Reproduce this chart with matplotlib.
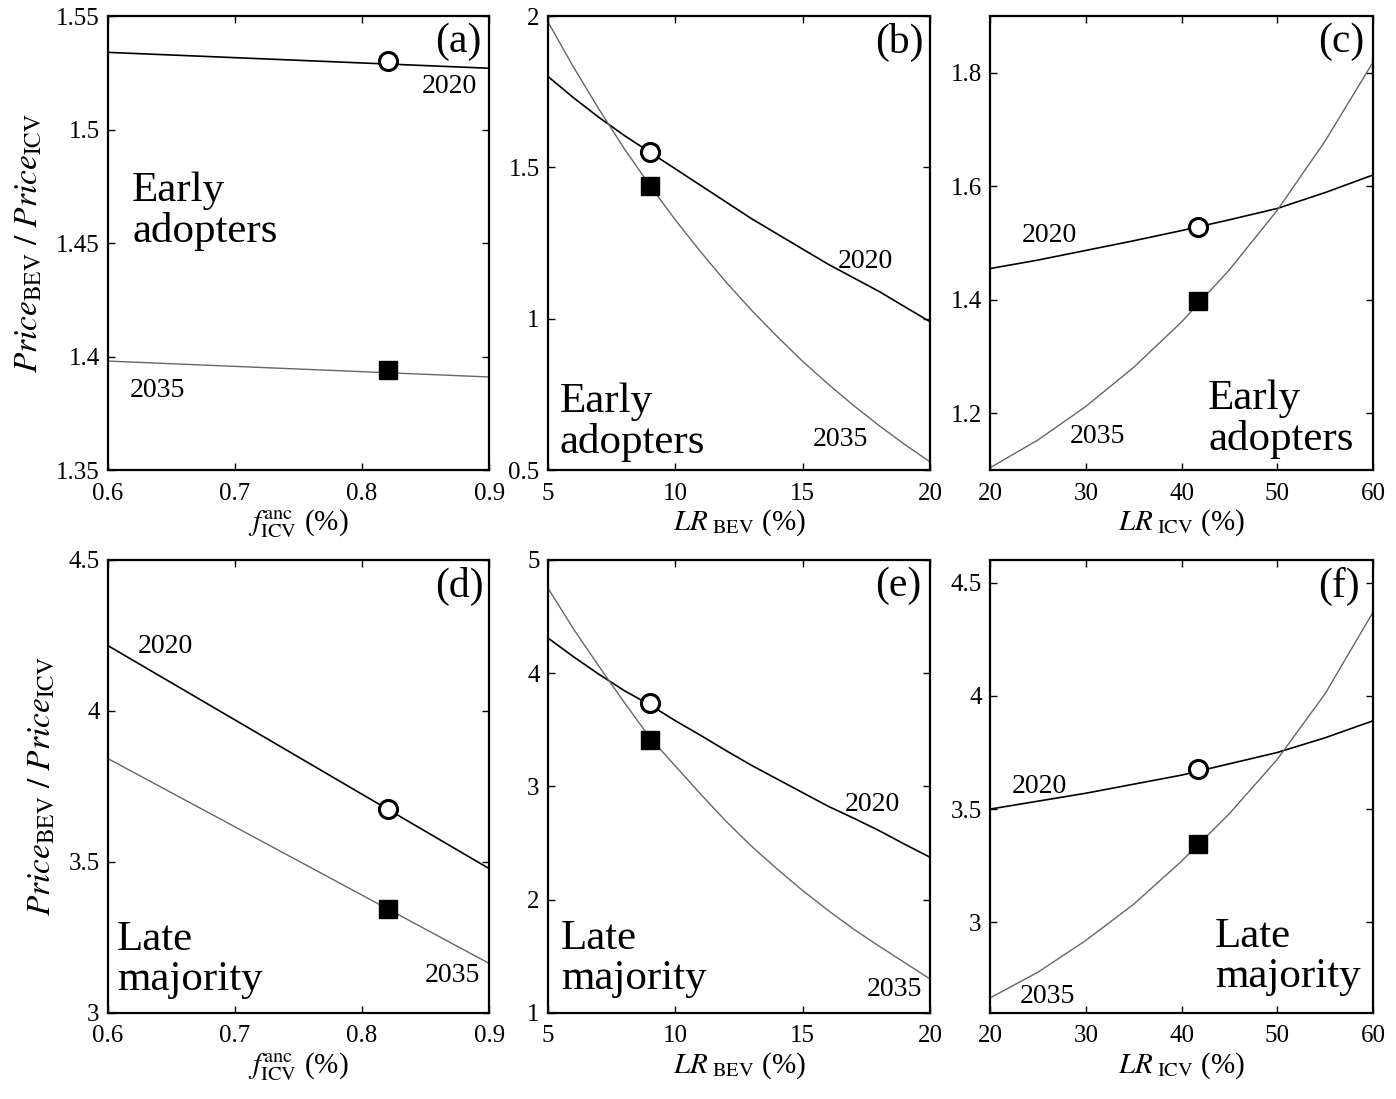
import numpy as np
import matplotlib.pyplot as plt
from matplotlib.ticker import FormatStrFormatter

plt.rcParams['font.family'] = ['Liberation Serif', 'DejaVu Serif']
plt.rcParams['mathtext.fontset'] = 'stix'

# f_anc sweep, panels (a) and (d)
f_anc = [0.6, 0.9]
a_2020 = [1.534, 1.527]
a_2035 = [1.398, 1.391]
d_2020 = [4.216, 3.478]
d_2035 = [3.842, 3.164]

# LR_BEV sweep, panels (b) and (e)
lr_bev = [5, 6, 7, 8, 9, 10, 11, 12, 13, 14, 15, 16, 17, 18, 19, 20]
b_2020 = [1.80, 1.73, 1.665, 1.605, 1.55, 1.495, 1.44, 1.385, 1.33, 1.28,
          1.23, 1.18, 1.135, 1.09, 1.04, 0.99]
b_2035 = [1.98, 1.831, 1.692, 1.561, 1.44, 1.326, 1.22, 1.12, 1.027, 0.941,
          0.859, 0.784, 0.713, 0.647, 0.585, 0.527]
e_2020 = [4.31, 4.145, 3.99, 3.845, 3.72, 3.58, 3.45, 3.315, 3.185, 3.065,
          2.945, 2.825, 2.72, 2.61, 2.49, 2.375]
e_2035 = [4.75, 4.39, 4.06, 3.74, 3.43, 3.18, 2.93, 2.69, 2.47, 2.27,
          2.08, 1.905, 1.74, 1.59, 1.445, 1.30]

# LR_ICV sweep, panels (c) and (f)
lr_icv = [20, 25, 30, 35, 40, 45, 50, 55, 60]
c_2020 = [1.455, 1.470, 1.487, 1.504, 1.522, 1.541, 1.561, 1.589, 1.62]
c_2035 = [1.104, 1.153, 1.212, 1.281, 1.361, 1.453, 1.558, 1.68, 1.819]
f_2020 = [3.50, 3.535, 3.57, 3.61, 3.65, 3.70, 3.75, 3.815, 3.89]
f_2035 = [2.666, 2.78, 2.92, 3.08, 3.27, 3.48, 3.72, 4.01, 4.37]

# base case points (x, 2020 value, 2035 value)
base_a = (0.82, 1.530, 1.394)
base_b = (9, 1.55, 1.44)
base_c = (41.7, 1.529, 1.398)
base_d = (0.82, 3.675, 3.344)
base_e = (9, 3.74, 3.41)
base_f = (41.7, 3.675, 3.344)

ylabel = r'$\mathit{Price}_{\mathrm{BEV}}\ /\ \mathit{Price}_{\mathrm{ICV}}$'
xl_anc = r'$f_{\mathrm{ICV}}^{\mathrm{anc}}$ (%)'
xl_bev = r'$LR_{\ \mathrm{BEV}}$ (%)'
xl_icv = r'$LR_{\ \mathrm{ICV}}$ (%)'

fig = plt.figure(figsize=(13.96, 10.99), dpi=100)

lefts = [0.0774, 0.3926, 0.7092]
widths = [0.273, 0.2736, 0.2744]


def panel(pos, x, y20, y35, base, xlim, ylim, yticks, xticks, xlabel,
          letter, group, group_pos, lab20, lab35, show_ylabel):
    ax = fig.add_axes(pos)
    ax.plot(x, y20, color='black', lw=1.2)
    ax.plot(x, y35, color='#666666', lw=1.0)
    ax.plot(base[0], base[1], 'o', ms=13, mfc='white', mec='black', mew=2.2)
    ax.plot(base[0], base[2], 's', ms=13, mfc='black', mec='black')
    ax.set_xlim(xlim)
    ax.set_ylim(ylim)
    ax.set_xticks(xticks)
    ax.set_yticks(yticks)
    ax.xaxis.set_major_formatter(FormatStrFormatter('%g'))
    ax.yaxis.set_major_formatter(FormatStrFormatter('%g'))
    ax.tick_params(direction='in', top=True, right=True, length=5, width=1,
                   labelsize=18)
    ax.tick_params(axis='x', pad=9)
    ax.tick_params(axis='y', pad=6)
    for s in ax.spines.values():
        s.set_linewidth(1.6)
    ax.set_xlabel(xlabel, fontsize=21, labelpad=2)
    if show_ylabel:
        ax.set_ylabel(ylabel, fontsize=24, labelpad=8)
    ax.text(0.857, 0.985, letter, transform=ax.transAxes, fontsize=30,
            ha='left', va='top')
    ax.text(group_pos[0], group_pos[1], group, transform=ax.transAxes,
            fontsize=31, ha='left', va='center', linespacing=1.05)
    ax.text(lab20[0], lab20[1], '2020', fontsize=20, ha='center', va='center')
    ax.text(lab35[0], lab35[1], '2035', fontsize=20, ha='center', va='center')
    return ax


top = [0.5723, 0.4131]
bot = [0.0783, 0.4122]

panel([lefts[0], top[0], widths[0], top[1]], f_anc, a_2020, a_2035, base_a,
      (0.6, 0.9), (1.35, 1.55), [1.35, 1.4, 1.45, 1.5, 1.55],
      [0.6, 0.7, 0.8, 0.9], xl_anc, '(a)', 'Early\nadopters', (0.063, 0.57),
      (0.869, 1.519), (0.639, 1.385), True)
panel([lefts[1], top[0], widths[1], top[1]], lr_bev, b_2020, b_2035, base_b,
      (5, 20), (0.5, 2), [0.5, 1, 1.5, 2], [5, 10, 15, 20], xl_bev, '(b)',
      'Early\nadopters', (0.031, 0.105), (17.45, 1.19), (16.47, 0.60), False)
panel([lefts[2], top[0], widths[2], top[1]], lr_icv, c_2020, c_2035, base_c,
      (20, 60), (1.1, 1.9), [1.2, 1.4, 1.6, 1.8], [20, 30, 40, 50, 60],
      xl_icv, '(c)', 'Early\nadopters', (0.569, 0.112), (26.2, 1.514),
      (31.2, 1.159), False)
panel([lefts[0], bot[0], widths[0], bot[1]], f_anc, d_2020, d_2035, base_d,
      (0.6, 0.9), (3, 4.5), [3, 3.5, 4, 4.5], [0.6, 0.7, 0.8, 0.9], xl_anc,
      '(d)', 'Late\nmajority', (0.024, 0.118), (0.645, 4.213), (0.871, 3.124),
      True)
panel([lefts[1], bot[0], widths[1], bot[1]], lr_bev, e_2020, e_2035, base_e,
      (5, 20), (1, 5), [1, 2, 3, 4, 5], [5, 10, 15, 20], xl_bev, '(e)',
      'Late\nmajority', (0.034, 0.12), (17.72, 2.844), (18.59, 1.208), False)
panel([lefts[2], bot[0], widths[2], bot[1]], lr_icv, f_2020, f_2035, base_f,
      (20, 60), (2.6, 4.6), [3, 3.5, 4, 4.5], [20, 30, 40, 50, 60], xl_icv,
      '(f)', 'Late\nmajority', (0.587, 0.123), (25.1, 3.6), (25.95, 2.673),
      False)

fig.savefig('out.png', dpi=100)
